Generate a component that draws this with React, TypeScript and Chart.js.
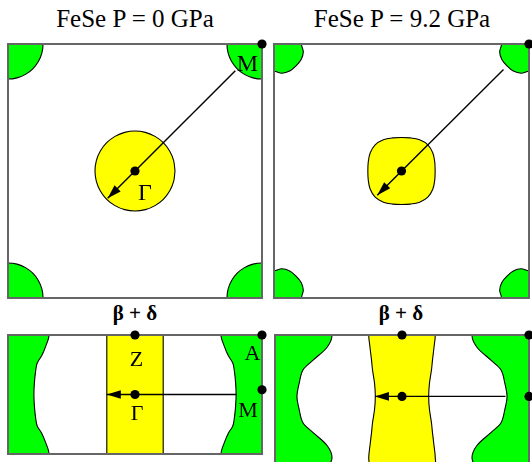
import React, { useEffect, useRef } from 'react';
import { Chart, registerables } from 'chart.js';

Chart.register(...registerables);

// ---------- text ----------
const panelTitles = ['FeSe P = 0 GPa', 'FeSe P = 9.2 GPa'];
const cutTitle = 'β + δ';

// ---------- kx-ky plane (units: zone half-width), radii sampled every 15° in one octant ----------
const octantAngles = [0, 15, 30, 45];
const holeRadius0 = [0.315, 0.315, 0.315, 0.315];
const holeRadius92 = [0.264, 0.27, 0.284, 0.292];
const electronRadius0 = [0.276, 0.276, 0.276, 0.276];
const electronRadius92 = [0.215, 0.238, 0.246, 0.244];

// ---------- kz cut (x: Γ-M units, y: kz in units of Γ-Z) ----------
const kzGrid0 = [0, 0.2, 0.4, 0.53, 0.65, 0.8, 1.0];
const electronEdge0 = [0.796, 0.792, 0.782, 0.77, 0.735, 0.705, 0.677];
const holeEdge0 = [0.222, 0.222, 0.222, 0.222, 0.222, 0.222, 0.222];
const kzGrid92 = [0, 0.21, 0.43, 0.59, 0.8, 1.0];
const electronEdge92 = [0.827, 0.81, 0.78, 0.7, 0.59, 0.551];
const holeEdge92 = [0.21, 0.216, 0.232, 0.24, 0.252, 0.262];

// ---------- nesting arrows [from, to] ----------
const arrowTop0 = [[0.79, 0.79], [-0.215, -0.215]];
const arrowTop92 = [[0.8, 0.8], [-0.19, -0.19]];
const arrowCut0 = [[0.8, 0], [-0.222, 0]];
const arrowCut92 = [[0.815, 0], [-0.213, 0]];

// ---------- high-symmetry points ----------
const symTopX = [1, 0];
const symTopY = [1, 0];
const symCut0X = [0, 1, 1, 0];
const symCut0Y = [1, 1, 0.08, 0];
const symCut92X = [0, 1, 1, 0];
const symCut92Y = [1, 1, 0, 0];

const corners = [[-1, 1], [1, 1], [-1, -1], [1, -1]];

const GREEN = '#00ff00';
const YELLOW = '#ffff00';
const PAD = 8;

type Pt = { x: number; y: number };

function radiusAt(radii: number[], deg: number) {
  const a = ((deg % 90) + 90) % 90;
  const o = a <= 45 ? a : 90 - a;
  return radii[octantAngles.indexOf(o)];
}

function pocketLoop(cx: number, cy: number, radii: number[]): Pt[] {
  let start = 0;
  if (cx !== 0 || cy !== 0) start = Math.round((Math.atan2(cy, cx) * 180) / Math.PI);
  const pts: Pt[] = [];
  for (let i = 0; i <= 24; i++) {
    const deg = start + i * 15;
    const r = radiusAt(radii, deg);
    const t = (deg * Math.PI) / 180;
    pts.push({ x: cx + r * Math.cos(t), y: cy + r * Math.sin(t) });
  }
  return pts;
}

function fullProfile(kz: number[], edge: number[]) {
  const n = kz.length;
  const out: { k: number; e: number }[] = [];
  out.push({ k: -(2 - kz[n - 2]), e: edge[n - 2] });
  for (let i = n - 1; i >= 1; i--) out.push({ k: -kz[i], e: edge[i] });
  for (let i = 0; i < n; i++) out.push({ k: kz[i], e: edge[i] });
  out.push({ k: 2 - kz[n - 2], e: edge[n - 2] });
  return out;
}

function electronBand(kz: number[], edge: number[], side: number): Pt[] {
  const prof = fullProfile(kz, edge);
  const inner = prof.map((p) => ({ x: side * p.e, y: p.k }));
  const outer = prof.slice().reverse().map((p) => ({ x: side * (2 - p.e), y: p.k }));
  const pts = inner.concat(outer);
  pts.push(pts[0]);
  return pts;
}

function holeBand(kz: number[], edge: number[]): Pt[] {
  const prof = fullProfile(kz, edge);
  const left = prof.map((p) => ({ x: -p.e, y: p.k }));
  const right = prof.slice().reverse().map((p) => ({ x: p.e, y: p.k }));
  const pts = left.concat(right);
  pts.push(pts[0]);
  return pts;
}

function shapeDs(data: Pt[], color: string, tension = 0.33) {
  return {
    data,
    showLine: true,
    fill: 'shape',
    backgroundColor: color,
    borderColor: '#000',
    borderWidth: 1.1,
    pointRadius: 0,
    tension,
    clip: 0,
  };
}

function arrowDs(a: number[][]) {
  return {
    data: a.map((p) => ({ x: p[0], y: p[1] })),
    showLine: true,
    fill: false,
    borderColor: '#000',
    borderWidth: 1.4,
    pointRadius: 0,
    tension: 0,
    arrowHead: true,
  };
}

function dotsDs(xs: number[], ys: number[]) {
  return {
    data: xs.map((x, i) => ({ x, y: ys[i] })),
    showLine: false,
    pointRadius: 4.6,
    pointBackgroundColor: '#000',
    pointBorderColor: '#000',
    pointBorderWidth: 0,
    clip: false,
  };
}

const decorPlugin = {
  id: 'fermiDecor',
  beforeDatasetDraw(chart: any, args: any) {
    if (args.index !== 1) return;
    const { left, top, right, bottom } = chart.chartArea;
    const ctx = chart.ctx;
    ctx.save();
    ctx.strokeStyle = '#666';
    ctx.lineWidth = 2;
    ctx.strokeRect(left, top, right - left, bottom - top);
    ctx.restore();
  },
  afterDatasetDraw(chart: any, args: any) {
    const ds = chart.data.datasets[args.index];
    if (!ds.arrowHead) return;
    const pts = chart.getDatasetMeta(args.index).data;
    const tip = pts[pts.length - 1];
    const prev = pts[pts.length - 2];
    const ang = Math.atan2(tip.y - prev.y, tip.x - prev.x);
    const L = 14;
    const W = 4.3;
    const bx = tip.x - L * Math.cos(ang);
    const by = tip.y - L * Math.sin(ang);
    const ctx = chart.ctx;
    ctx.save();
    ctx.fillStyle = '#000';
    ctx.beginPath();
    ctx.moveTo(tip.x, tip.y);
    ctx.lineTo(bx - W * Math.sin(ang), by + W * Math.cos(ang));
    ctx.lineTo(bx + W * Math.sin(ang), by - W * Math.cos(ang));
    ctx.closePath();
    ctx.fill();
    ctx.restore();
  },
};

type Rect = { x: number; y: number; w: number; h: number };

function Panel({ rect, yMin, build }: { rect: Rect; yMin: number; build: () => any[] }) {
  const ref = useRef<HTMLCanvasElement>(null);
  useEffect(() => {
    const chart = new Chart(ref.current as HTMLCanvasElement, {
      type: 'scatter',
      data: { datasets: build() },
      options: {
        animation: false,
        responsive: false,
        maintainAspectRatio: false,
        events: [],
        layout: { padding: PAD },
        elements: { line: { capBezierPoints: false } },
        scales: {
          x: { type: 'linear', min: -1, max: 1, display: false },
          y: { type: 'linear', min: yMin, max: 1, display: false },
        },
        plugins: { legend: { display: false }, tooltip: { enabled: false } },
      } as any,
      plugins: [decorPlugin as any],
    });
    return () => chart.destroy();
  }, []);
  const w = rect.w + 2 * PAD;
  const h = rect.h + 2 * PAD;
  return (
    <canvas
      ref={ref}
      width={w}
      height={h}
      style={{ position: 'absolute', left: rect.x - PAD, top: rect.y - PAD, width: w, height: h }}
    />
  );
}

function Label({ text, cx, base, size, bold }: { text: string; cx: number; base: number; size: number; bold?: boolean }) {
  return (
    <div
      style={{
        position: 'absolute',
        left: cx,
        top: base - 0.8375 * size,
        transform: 'translateX(-50%)',
        fontFamily: '"Liberation Serif", "Times New Roman", serif',
        fontSize: size,
        lineHeight: `${size}px`,
        fontWeight: bold ? 'bold' : 'normal',
        whiteSpace: 'nowrap',
        color: '#000',
      }}
    >
      {text}
    </div>
  );
}

const buildTop = (hole: number[], elec: number[], arrow: number[][]) => () => [
  dotsDs(symTopX, symTopY),
  arrowDs(arrow),
  shapeDs(pocketLoop(0, 0, hole), YELLOW),
  ...corners.map((c) => shapeDs(pocketLoop(c[0], c[1], elec), GREEN)),
];

const buildCut = (kz: number[], elec: number[], hole: number[], arrow: number[][], sx: number[], sy: number[], holeTension: number) => () => [
  dotsDs(sx, sy),
  arrowDs(arrow),
  shapeDs(holeBand(kz, hole), YELLOW, holeTension),
  shapeDs(electronBand(kz, elec, -1), GREEN),
  shapeDs(electronBand(kz, elec, 1), GREEN),
];

export default function App() {
  return (
    <div
      style={{
        position: 'fixed',
        left: 0,
        top: 0,
        width: 532,
        height: 462,
        overflow: 'hidden',
        background: '#fff',
      }}
    >
      <Label text={panelTitles[0]} cx={135} base={27} size={25} />
      <Label text={panelTitles[1]} cx={402} base={27} size={25} />
      <Label text={cutTitle} cx={135} base={321} size={21} bold />
      <Label text={cutTitle} cx={401} base={321} size={21} bold />

      <Panel rect={{ x: 8, y: 44, w: 254, h: 254 }} yMin={-1} build={buildTop(holeRadius0, electronRadius0, arrowTop0)} />
      <Panel rect={{ x: 274, y: 44, w: 255, h: 254 }} yMin={-1} build={buildTop(holeRadius92, electronRadius92, arrowTop92)} />
      <Panel
        rect={{ x: 8, y: 335, w: 254, h: 119 }}
        yMin={-1}
        build={buildCut(kzGrid0, electronEdge0, holeEdge0, arrowCut0, symCut0X, symCut0Y, 0)}
      />
      <Panel
        rect={{ x: 275, y: 335, w: 254, h: 132 }}
        yMin={-1.15}
        build={buildCut(kzGrid92, electronEdge92, holeEdge92, arrowCut92, symCut92X, symCut92Y, 0.33)}
      />

      <Label text="M" cx={247.5} base={71} size={24} />
      <Label text="Γ" cx={145} base={200} size={24} />
      <Label text="Z" cx={136.5} base={366} size={22} />
      <Label text="Γ" cx={137} base={420} size={22} />
      <Label text="A" cx={252.5} base={360} size={22} />
      <Label text="M" cx={248} base={417} size={22} />
    </div>
  );
}
